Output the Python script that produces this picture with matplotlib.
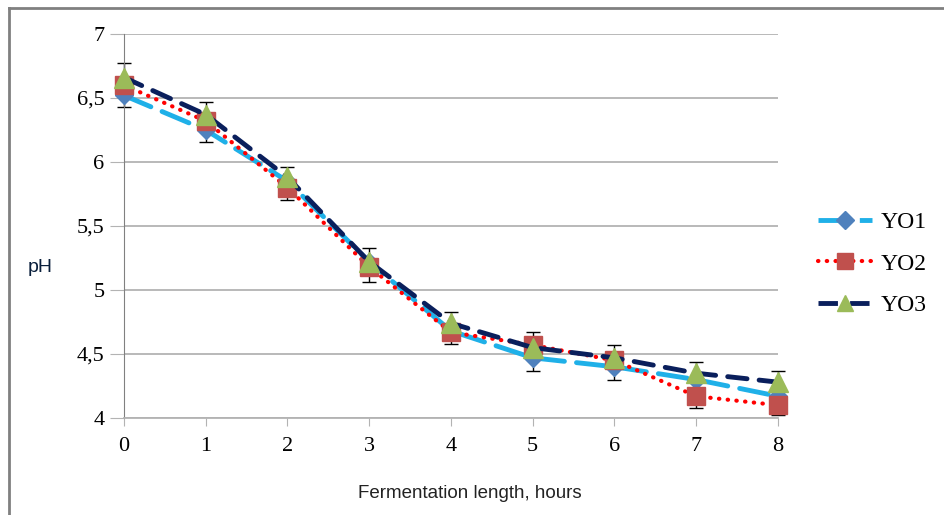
import matplotlib.pyplot as plt
from matplotlib.lines import Line2D

hours = [0, 1, 2, 3, 4, 5, 6, 7, 8]
yo1 = [6.52, 6.25, 5.85, 5.22, 4.68, 4.47, 4.40, 4.30, 4.17]
yo2 = [6.60, 6.32, 5.80, 5.18, 4.67, 4.57, 4.45, 4.17, 4.10]
yo3 = [6.66, 6.37, 5.88, 5.22, 4.74, 4.55, 4.47, 4.35, 4.28]
err_lo = [6.43, 6.16, 5.70, 5.06, 4.58, 4.37, 4.30, 4.08, 4.02]
err_hi = [6.77, 6.47, 5.96, 5.33, 4.83, 4.67, 4.57, 4.44, 4.37]
yticks = [4, 4.5, 5, 5.5, 6, 6.5, 7]
ytick_labels = ['4', '4,5', '5', '5,5', '6', '6,5', '7']

fig = plt.figure(figsize=(9.45, 5.15), dpi=100)
ax = fig.add_axes([124/945, 1-418/515, 654/945, 384/515])

# gridlines
for t in yticks:
    ax.axhline(t, color='#b3b3b3', lw=1.3, zorder=0)

# error bars
mid = [(a + b) / 2 for a, b in zip(err_lo, err_hi)]
ax.errorbar(hours, mid, yerr=[[m - a for m, a in zip(mid, err_lo)], [b - m for m, b in zip(mid, err_hi)]],
            fmt='none', ecolor='black', elinewidth=1, capsize=5, capthick=1, zorder=2, clip_on=False)

ax.plot(hours, yo1, color='#1fb0e8', lw=3.5, ls=(0, (6, 2.5)), dash_capstyle='round',
        marker='D', ms=9, mfc='#4f81bd', mec='#4f81bd', zorder=3, clip_on=False)
ax.plot(hours, yo2, color='#ff0000', lw=3, ls=(0, (0.1, 2)), dash_capstyle='round',
        marker='s', ms=13, mfc='#c0504d', mec='#c0504d', zorder=4, clip_on=False)
ax.plot(hours, yo3, color='#0a1f5c', lw=3.5, ls=(0, (4, 2.5)), dash_capstyle='round',
        marker='^', ms=14, mfc='#9bbb59', mec='#9bbb59', zorder=5, clip_on=False)

ax.set_xlim(0, 8)
ax.set_ylim(4, 7)
ax.set_xticks(hours)
ax.set_xticklabels([str(h) for h in hours], family='Liberation Serif', fontsize=16)
ax.set_yticks(yticks)
ax.set_yticklabels(ytick_labels, family='Liberation Serif', fontsize=16)
ax.tick_params(axis='y', length=10, color='#b3b3b3', pad=4)
ax.tick_params(axis='x', length=6, color='#b3b3b3', pad=8, direction='out')
for s in ['top', 'right']:
    ax.spines[s].set_visible(False)
ax.spines['left'].set_color('#808080')
ax.spines['bottom'].set_color('#b3b3b3')
ax.spines['bottom'].set_linewidth(1.3)

fig.text(470/945, 1-493/515, 'Fermentation length, hours', ha='center', va='center',
         family='Liberation Sans', fontsize=13.5, color='#222222')
fig.text(40/945, 1-268/515, 'pH', ha='center', va='center',
         family='Liberation Sans', fontsize=14, color='#0a1f3c')

handles = [
    Line2D([], [], color='#1fb0e8', lw=3.5, ls=(0, (6, 2.5)), marker='D', ms=9,
           mfc='#4f81bd', mec='#4f81bd'),
    Line2D([], [], color='#ff0000', lw=3, ls=(0, (0.1, 2)), dash_capstyle='round', marker='s', ms=11,
           mfc='#c0504d', mec='#c0504d'),
    Line2D([], [], color='#0a1f5c', lw=3.5, ls=(0, (4, 2.5)), marker='^', ms=12,
           mfc='#9bbb59', mec='#9bbb59'),
]
fig.legend(handles, ['YO1', 'YO2', 'YO3'], loc='center left', bbox_to_anchor=(818/945, 1-264/515),
           frameon=False, prop={'family': 'Liberation Serif', 'size': 17}, handlelength=2.3,
           labelspacing=0.85, handletextpad=0.35, borderpad=0, borderaxespad=0)

# outer frame
fig.add_artist(Line2D([9/945, 9/945], [0, 1-8/515], color='#808080', lw=2, transform=fig.transFigure))
fig.add_artist(Line2D([9/945, 1], [1-8/515, 1-8/515], color='#808080', lw=2, transform=fig.transFigure))

fig.savefig('out.png', dpi=100, facecolor='white')
